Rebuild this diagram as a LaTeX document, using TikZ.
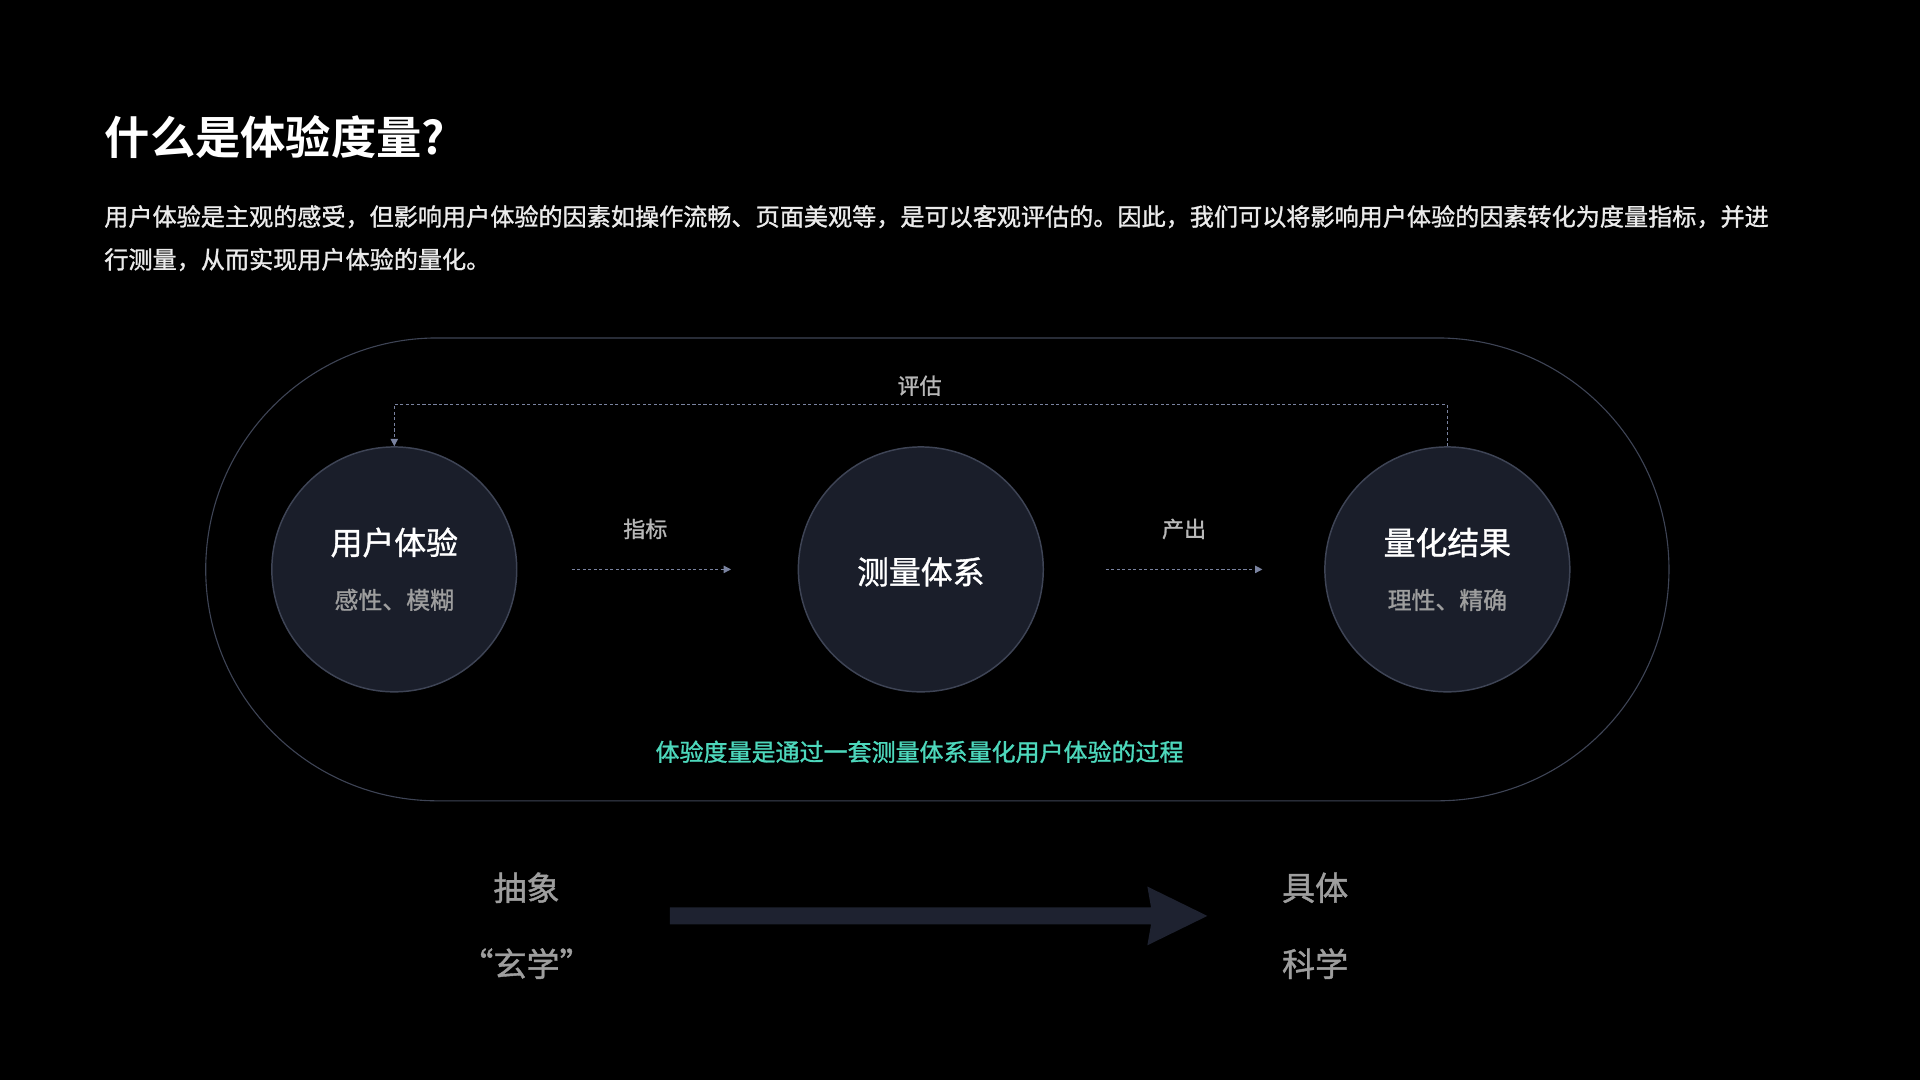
\documentclass[tikz,border=0pt]{standalone}
\usepackage{fontspec}
\setmainfont{Noto Sans CJK SC}
\newfontfamily\cjkb{Noto Sans CJK SC Bold}
\newfontfamily\cjkm[FakeBold=1.2]{Noto Sans CJK SC}
\usetikzlibrary{arrows.meta}
\definecolor{circfill}{HTML}{1A1E2A}
\definecolor{circline}{HTML}{3E4455}
\definecolor{dash}{HTML}{7A83A0}
\definecolor{teal}{HTML}{4DD8BC}
\definecolor{bigarrow}{HTML}{1E2230}
\tikzset{
 bubble/.style={circle,draw=circline,line width=1.2pt,fill=circfill,minimum size=200pt,inner sep=0},
 flow/.style={draw=dash,line width=1pt,dash pattern=on 2.5pt off 2pt,-{Triangle[length=6pt,width=6pt]}},
 lbl/.style={text=white!72!black,font=\cjkm\fontsize{18}{20}\selectfont},
 big/.style={text=white,font=\cjkm\fontsize{26}{30}\selectfont},
 sub/.style={text=white!62!black,font=\cjkm\fontsize{19.5}{22}\selectfont},
 bot/.style={text=white!62!black,font=\cjkm\fontsize{27}{30}\selectfont}
}
\begin{document}
\begin{tikzpicture}[x=1pt,y=-1pt]
\fill[black] (0,0) rectangle (1568,882);
\useasboundingbox (0,0) rectangle (1568,882);
\node[anchor=west,text=white,font=\cjkb\fontsize{37}{40}\selectfont] (title) at (82,112) {什么是体验度量?};
\node[anchor=west,inner sep=0,text=white!92!black,font=\cjkm\fontsize{19.7}{22}\selectfont] (p1) at (85,177) {用户体验是主观的感受，但影响用户体验的因素如操作流畅、页面美观等，是可以客观评估的。因此，我们可以将影响用户体验的因素转化为度量指标，并进};
\node[anchor=west,inner sep=0,text=white!92!black,font=\cjkm\fontsize{19.7}{22}\selectfont] (p2) at (85,212) {行测量，从而实现用户体验的量化。};
\draw[draw=circline,line width=0.9pt,rounded corners=189pt] (168,276) rectangle (1363,654);
\node[bubble] (a) at (322,465) {};
\node[bubble] (b) at (752,465) {};
\node[bubble] (c) at (1182,465) {};
\node[big] at (322,443) {用户体验};
\node[sub] at (322,490) {感性、模糊};
\node[big] at (752,467) {测量体系};
\node[big] at (1182,443) {量化结果};
\node[sub] at (1182,490) {理性、精确};
\coordinate (a1) at (467,465); \coordinate (a2) at (597,465);
\coordinate (b1) at (903,465); \coordinate (b2) at (1031,465);
\draw[flow] (a1) -- (a2);
\draw[flow] (b1) -- (b2);
\node[lbl] at (527,432) {指标};
\node[lbl] at (967,432) {产出};
\draw[flow] (c.north) -- ++(0,-34) -| (a.north);
\node[lbl] at (751,315) {评估};
\node[text=teal,font=\cjkm\fontsize{19.6}{22}\selectfont] at (751,614) {体验度量是通过一套测量体系量化用户体验的过程};
\node[bot] (abs) at (430,725) {抽象};
\node[bot] (xx) at (430,787) {“玄学”};
\node[bot] (ju) at (1074,725) {具体};
\node[bot] (kx) at (1074,787) {科学};
\fill[bigarrow] (547,741) -- (940,741) -- (937,724) -- (986,748) -- (937,772) -- (940,755) -- (547,755) -- cycle;
\end{tikzpicture}
\end{document}
